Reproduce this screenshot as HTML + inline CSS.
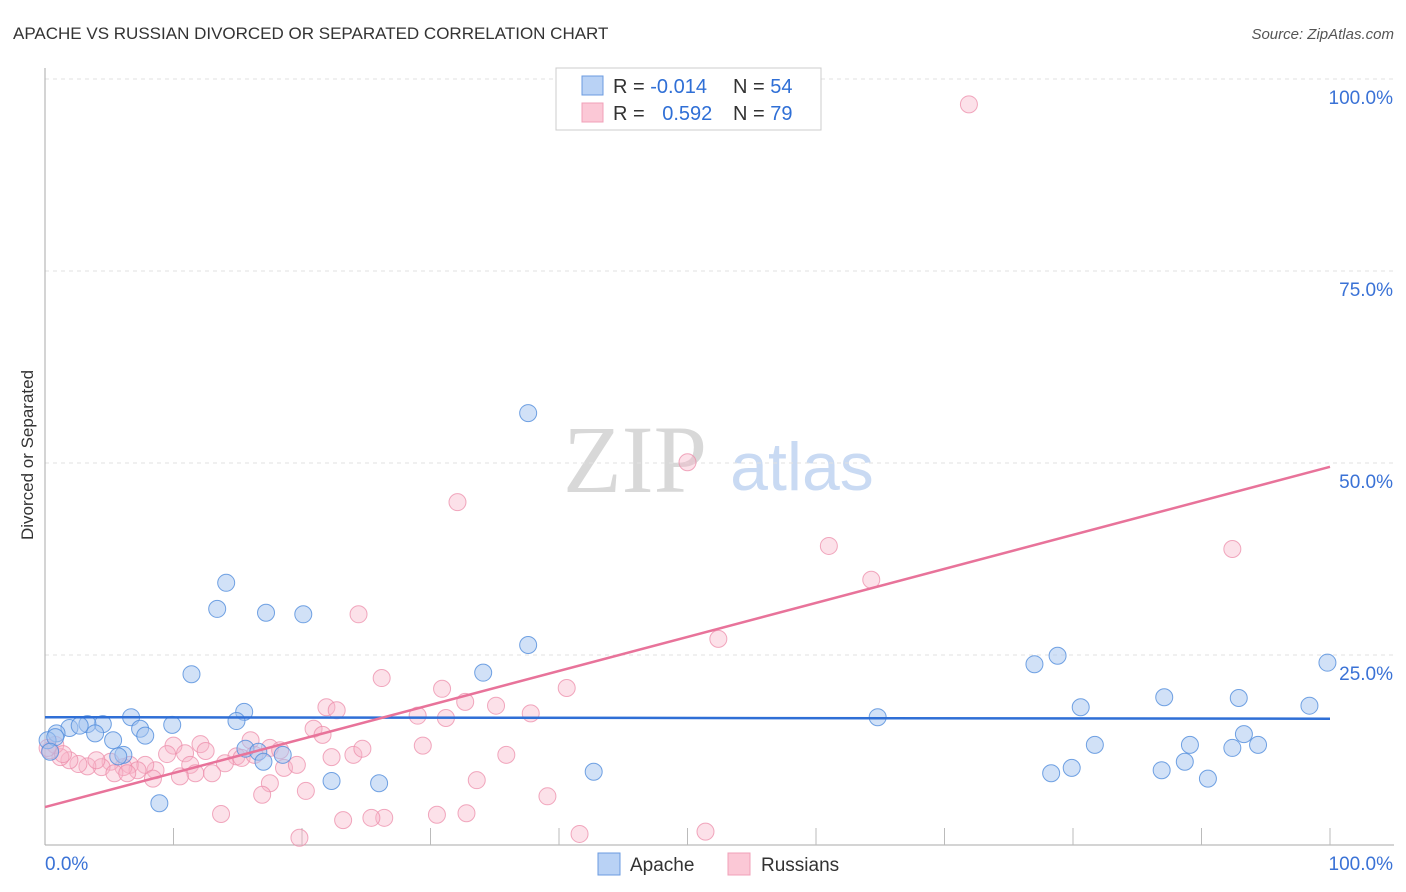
<!DOCTYPE html>
<html><head><meta charset="utf-8"><style>
body{margin:0;background:#fff;font-family:"Liberation Sans",sans-serif;}
svg{display:block}
</style></head><body>
<svg id="chart" width="1406" height="892" xmlns="http://www.w3.org/2000/svg">
<text x="13" y="39" font-size="17" fill="#333">APACHE VS RUSSIAN DIVORCED OR SEPARATED CORRELATION CHART</text>
<text x="1394" y="39" font-size="15" fill="#555" font-style="italic" text-anchor="end">Source: ZipAtlas.com</text>
<text x="33" y="455" font-size="17" fill="#333" text-anchor="middle" transform="rotate(-90 33 455)">Divorced or Separated</text>
<g>
<text x="635" y="492" font-size="96" fill="#d8d8d8" font-family="Liberation Serif,serif" text-anchor="middle">ZIP</text>
<text x="802" y="490" font-size="68" fill="#c9daf3" text-anchor="middle">atlas</text>
</g>
<g id="grid"></g>
<g id="axes"></g>
<g id="pts"></g>
<g id="lines"></g>
<g>
<rect x="556" y="68" width="265" height="62" fill="#fff" stroke="#ccc"/>
<rect x="582" y="76" width="21" height="19" fill="#b9d2f5" stroke="#6b9be0"/>
<rect x="582" y="103" width="21" height="19" fill="#fbc8d6" stroke="#f0a0b8"/>
<text x="613" y="93" font-size="20" fill="#333">R = <tspan fill="#2f6fd6">-0.014</tspan></text>
<text x="733" y="93" font-size="20" fill="#333">N = <tspan fill="#2f6fd6">54</tspan></text>
<text x="613" y="120" font-size="20" fill="#333">R = <tspan fill="#2f6fd6" dx="12">0.592</tspan></text>
<text x="733" y="120" font-size="20" fill="#333">N = <tspan fill="#2f6fd6">79</tspan></text>
</g>
<g>
<rect x="598" y="853" width="22" height="22" fill="#b9d2f5" stroke="#6b9be0"/>
<text x="630" y="871" font-size="19" fill="#333">Apache</text>
<rect x="728" y="853" width="22" height="22" fill="#fbc8d6" stroke="#f0a0b8"/>
<text x="761" y="871" font-size="19" fill="#333">Russians</text>
</g>
</svg>
<script>
const yTicks=[25,50,75,100];
const yTickLabels=["25.0%","50.0%","75.0%","100.0%"];
const xTickLabels=["0.0%","100.0%"];
const apacheX=[37.6,14.1,13.4,17.2,20.1,11.4,37.6,34.1,99.8,78.8,77.0,87.1,92.9,98.4,80.6,64.8,15.5,6.7,14.9,9.9,4.5,3.3,1.9,0.9,7.4,7.8,5.3,3.9,2.7,0.2,0.8,81.7,89.1,92.4,94.4,93.3,15.6,16.6,17.0,6.1,5.7,18.5,78.3,79.9,86.9,88.7,90.5,42.7,22.3,26.0,8.9,0.4];
const apacheY=[56.5,34.4,31.0,30.5,30.3,22.5,26.3,22.7,24.0,24.9,23.8,19.5,19.4,18.4,18.2,16.9,17.6,16.9,16.4,15.9,16.0,16.0,15.5,14.8,15.4,14.5,13.9,14.8,15.8,13.9,14.3,13.3,13.3,12.9,13.3,14.7,12.8,12.4,11.1,12.0,11.8,12.0,9.6,10.3,10.0,11.1,8.9,9.8,8.6,8.3,5.7,12.4];
const russX=[71.9,50.0,32.1,61.0,92.4,64.3,24.4,52.4,26.2,30.9,40.6,32.7,35.1,29.0,31.2,37.8,21.9,22.7,20.9,21.6,12.1,12.5,10.0,16.0,17.5,29.4,24.0,24.7,22.3,35.9,9.5,10.9,14.9,15.3,14.0,16.3,18.3,11.3,13.0,11.7,8.6,10.5,7.8,6.6,7.2,6.1,5.1,4.4,3.3,2.6,1.9,1.2,0.4,0.8,1.4,4.0,5.4,6.4,8.4,18.6,19.6,33.6,17.5,16.9,20.3,39.1,13.7,30.5,32.8,26.4,25.4,23.2,19.8,41.6,51.4,0.2];
const russY=[96.7,50.1,44.9,39.2,38.8,34.8,30.3,27.1,22.0,20.6,20.7,18.9,18.4,17.1,16.8,17.4,18.2,17.8,15.4,14.6,13.4,12.5,13.2,13.9,12.9,13.2,12.0,12.8,11.7,12.0,12.1,12.2,11.8,11.6,10.9,12.0,12.6,10.7,9.6,9.6,10.0,9.2,10.7,10.7,10.0,10.4,11.1,10.4,10.5,10.8,11.3,11.7,12.6,13.3,12.1,11.3,9.6,9.6,8.9,10.3,10.7,8.7,8.3,6.8,7.3,6.6,4.3,4.2,4.4,3.8,3.8,3.5,1.2,1.7,2.0,12.9];
const apacheLine=[16.9,16.7];
const russLine=[5.2,49.5];

const X0=45,X1=1330,Y0=847,Y1=79;
const sx=v=>X0+(X1-X0)*v/100;
const sy=v=>Y0-(Y0-Y1)*v/100;
const NS="http://www.w3.org/2000/svg";
function mk(tag,attrs,parent){const e=document.createElementNS(NS,tag);for(const k in attrs)e.setAttribute(k,attrs[k]);parent.appendChild(e);return e;}
const grid=document.getElementById('grid'),axes=document.getElementById('axes'),pts=document.getElementById('pts'),lines=document.getElementById('lines');
yTicks.forEach((t,i)=>{
  const g=mk('line',{x1:X0,x2:1394,y1:sy(t),y2:sy(t),stroke:'#e2e2e2','stroke-dasharray':'4,4'},grid);
  
  
  const l=mk('text',{x:1393,y:sy(t)+25,'font-size':19,fill:'#3a72d6','text-anchor':'end'},axes);
  l.textContent=yTickLabels[i];
  
  
});
const ax=mk('line',{x1:X0,x2:X0,y1:68,y2:845,stroke:'#aaa'},axes);


const bx=mk('line',{x1:X0,x2:1394,y1:845,y2:845,stroke:'#aaa'},axes);


for(let i=1;i<=10;i++){
  const t=mk('line',{x1:sx(i*10),x2:sx(i*10),y1:828,y2:845,stroke:'#bbb'},axes);
  
  
}
[[0,'start',X0],[1,'end',1393]].forEach(([i,a,x])=>{
  const l=mk('text',{x:x,y:870,'font-size':19,fill:'#3a72d6','text-anchor':a},axes);
  l.textContent=xTickLabels[i];
  
  
});
russX.forEach((x,i)=>{
  const c=mk('circle',{cx:sx(x),cy:sy(russY[i]),r:8.5,fill:'rgba(248,180,200,0.4)',stroke:'rgba(236,140,170,0.75)','stroke-width':1},pts);
  
  
});
apacheX.forEach((x,i)=>{
  const c=mk('circle',{cx:sx(x),cy:sy(apacheY[i]),r:8.5,fill:'rgba(164,196,240,0.5)',stroke:'rgba(80,140,220,0.8)','stroke-width':1},pts);
  
  
});
const la=mk('line',{x1:sx(0),x2:sx(100),y1:sy(apacheLine[0]),y2:sy(apacheLine[1]),stroke:'#2f6fd6','stroke-width':2.5},lines);


const lr=mk('line',{x1:sx(0),x2:sx(100),y1:sy(russLine[0]),y2:sy(russLine[1]),stroke:'#e8739a','stroke-width':2.5},lines);


</script>
</body></html>
